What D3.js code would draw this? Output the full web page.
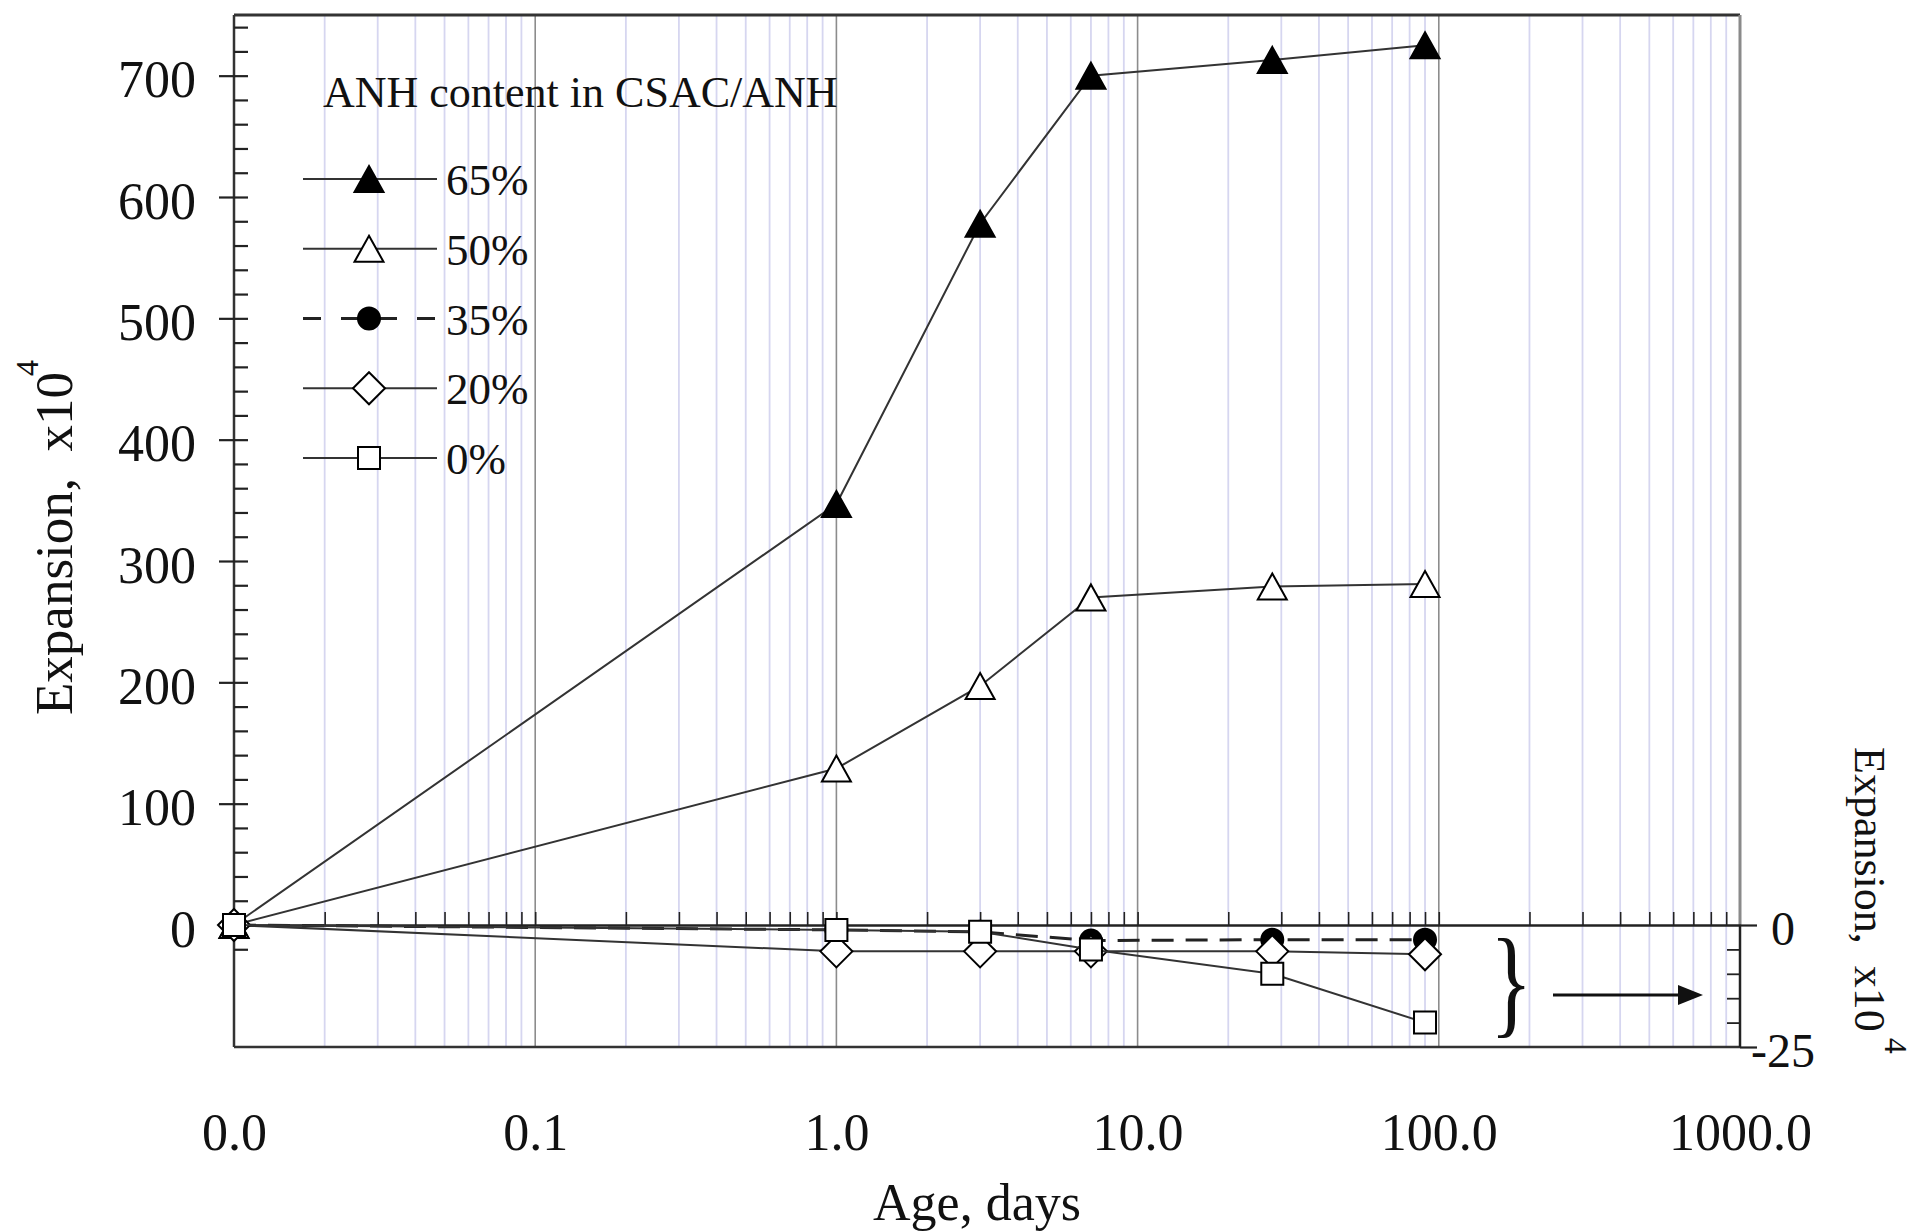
<!DOCTYPE html>
<html>
<head>
<meta charset="utf-8">
<script src="https://cdn.jsdelivr.net/npm/d3@7"></script>
<style>
  body { margin: 0; background: #fff; }
  svg { display: block; }
  text { font-family: "Liberation Serif", "Times New Roman", Times, serif; fill: #111; }
</style>
</head>
<body>
<svg id="chart" width="1914" height="1231"></svg>
<script>
// Age of the specimens (days); the initial reading sits on the left axis (0.01)
const ageDays = [0.01, 1, 3, 7, 28, 90];

// Expansion, x10^-4 — upper panel series (left axis)
const anh65 = [0, 347, 578, 700, 713, 725];
const anh50 = [0, 129, 197, 270, 279, 281];
// Lower panel series (right axis, 0 to -25)
const anh35 = [0, -1, -1.4, -3.2, -3, -3];
const anh20 = [0, -5.4, -5.4, -5.4, -5.4, -6];
const anh0  = [0, -1, -1.4, -5, -10, -20];

const seriesNames = ["65%", "50%", "35%", "20%", "0%"];
const legendTitle = "ANH content in CSAC/ANH";

const xTickValues = [0.01, 0.1, 1, 10, 100, 1000];
const xTickLabels = ["0.0", "0.1", "1.0", "10.0", "100.0", "1000.0"];
const leftMajorTicks = [0, 100, 200, 300, 400, 500, 600, 700];
const leftMinorTicks = d3.range(-20, 741, 20);
const rightMajorTicks = [0, -25];
const rightMinorTicks = [-5, -10, -15, -20];

const svg = d3.select("#chart");

const L = 234, R = 1740, T = 15, Z = 925, B = 1047;

const x = d3.scaleLog().domain([0.01, 1000]).range([L, R]);
const yTop = d3.scaleLinear().domain([0, 750]).range([Z, T]);
const yBot = d3.scaleLinear().domain([-25, 0]).range([B, Z]);

// ---- vertical grid ----
const grid = svg.append("g");
const allLogTicks = x.ticks().filter(d => d > 0.01 && d < 1000);
const isDecade = d => Math.abs(Math.log10(d) - Math.round(Math.log10(d))) < 1e-9;
grid.selectAll("line.minor")
  .data(allLogTicks.filter(d => !isDecade(d)))
  .join("line")
  .attr("x1", d => x(d)).attr("x2", d => x(d))
  .attr("y1", T).attr("y2", B)
  .attr("stroke", "#d6d6f0").attr("stroke-width", 1.8);
grid.selectAll("line.decade")
  .data(allLogTicks.filter(isDecade))
  .join("line")
  .attr("x1", d => x(d)).attr("x2", d => x(d))
  .attr("y1", T).attr("y2", B)
  .attr("stroke", "#8c8c8c").attr("stroke-width", 1.6);

// ---- frame ----
const frame = svg.append("g").attr("fill", "none");
frame.append("line").attr("x1", L).attr("x2", R).attr("y1", T).attr("y2", T)
  .attr("stroke", "#333").attr("stroke-width", 2.8);
frame.append("line").attr("x1", L).attr("x2", R).attr("y1", B).attr("y2", B)
  .attr("stroke", "#333").attr("stroke-width", 2.5);
frame.append("line").attr("x1", L).attr("x2", L).attr("y1", T).attr("y2", B)
  .attr("stroke", "#333").attr("stroke-width", 2.5);
frame.append("line").attr("x1", R).attr("x2", R).attr("y1", T).attr("y2", Z)
  .attr("stroke", "#8a8a8a").attr("stroke-width", 3);
frame.append("line").attr("x1", R).attr("x2", R).attr("y1", Z).attr("y2", B)
  .attr("stroke", "#222").attr("stroke-width", 2.5);

// ---- zero line with upward log ticks ----
const zeroAxis = svg.append("g").attr("transform", `translate(0,${Z})`)
  .call(d3.axisTop(x).tickValues(allLogTicks).tickSize(13).tickSizeOuter(0).tickFormat(""));
zeroAxis.select(".domain").attr("stroke", "#222").attr("stroke-width", 2.5);
zeroAxis.selectAll(".tick line").attr("stroke", "#222").attr("stroke-width", 1.6);

// ---- x tick labels ----
const xAxis = svg.append("g").attr("transform", `translate(0,${B})`)
  .call(d3.axisBottom(x).tickValues(xTickValues).tickSize(0)
    .tickFormat((d, i) => xTickLabels[i]));
xAxis.select(".domain").remove();
xAxis.selectAll("text")
  .attr("y", 103).attr("dy", 0)
  .style("font-size", "52px").style("font-family", "Liberation Serif").attr("fill", "#111");

svg.append("text")
  .attr("x", 977).attr("y", 1220)
  .attr("text-anchor", "middle")
  .style("font-size", "52px")
  .text("Age, days");

// ---- left axis ----
const yLeftAxis = svg.append("g").attr("transform", `translate(${L},0)`)
  .call(d3.axisLeft(yTop).tickValues(leftMajorTicks).tickSize(15).tickSizeOuter(0));
yLeftAxis.select(".domain").remove();
yLeftAxis.selectAll(".tick line").attr("stroke", "#222").attr("stroke-width", 2.2);
yLeftAxis.selectAll("text")
  .attr("x", -38).attr("dy", 0).attr("y", 21)
  .style("font-size", "52px").style("font-family", "Liberation Serif").attr("fill", "#111");

const yLeftInner = svg.append("g").attr("transform", `translate(${L},0)`)
  .call(d3.axisRight(yTop).tickValues(leftMinorTicks).tickSize(14).tickSizeOuter(0).tickFormat(""));
yLeftInner.select(".domain").remove();
yLeftInner.selectAll(".tick line").attr("stroke", "#222").attr("stroke-width", 2.2);

const leftTitle = svg.append("text")
  .attr("transform", "translate(72,715) rotate(-90)")
  .style("font-size", "53px");
leftTitle.append("tspan").text("Expansion,\u00A0\u00A0x10");
leftTitle.append("tspan").attr("dy", -34).attr("dx", -4).style("font-size", "32px").text("4");

// ---- right axis (lower panel) ----
const yRightAxis = svg.append("g").attr("transform", `translate(${R},0)`)
  .call(d3.axisRight(yBot).tickValues(rightMajorTicks).tickSize(17).tickSizeOuter(0)
    .tickFormat(d => d === 0 ? "0" : "-25"));
yRightAxis.select(".domain").remove();
yRightAxis.selectAll(".tick line").attr("stroke", "#222").attr("stroke-width", 2.2);
yRightAxis.selectAll("text")
  .attr("x", 43).attr("dy", 0).attr("y", 19)
  .attr("text-anchor", "middle")
  .style("font-size", "48px").style("font-family", "Liberation Serif").attr("fill", "#111");

const yRightInner = svg.append("g").attr("transform", `translate(${R},0)`)
  .call(d3.axisLeft(yBot).tickValues(rightMinorTicks).tickSize(13).tickSizeOuter(0).tickFormat(""));
yRightInner.select(".domain").remove();
yRightInner.selectAll(".tick line").attr("stroke", "#222").attr("stroke-width", 1.8);

const rightTitle = svg.append("text")
  .attr("transform", "translate(1855,747) rotate(90)")
  .style("font-size", "44px");
rightTitle.append("tspan").text("Expansion,\u00A0\u00A0x10");
rightTitle.append("tspan").attr("dy", -30).attr("dx", 6).style("font-size", "32px").text("4");

// brace and arrow pointing the lower series to the right axis
svg.append("text")
  .attr("transform", "translate(1490,1022) scale(0.8,1.1)")
  .style("font-size", "110px")
  .text("}");
svg.append("line")
  .attr("x1", 1553).attr("x2", 1682).attr("y1", 995).attr("y2", 995)
  .attr("stroke", "#111").attr("stroke-width", 3);
svg.append("path")
  .attr("d", "M1678,985 L1703,995 L1678,1005 Z")
  .attr("fill", "#111");

// ---- markers ----
const markerPaths = {
  triangle: "M0,-13 L14.5,13 L-14.5,13 Z",
  square: "M-11,-11 L11,-11 L11,11 L-11,11 Z",
  diamond: "M0,-16 L16,0 L0,16 L-16,0 Z",
  circle: d3.symbol(d3.symbolCircle, Math.PI * 11 * 11)()
};

const series = [
  { name: seriesNames[0], values: anh65, y: yTop, shape: "triangle", fill: "#000", dash: null },
  { name: seriesNames[1], values: anh50, y: yTop, shape: "triangle", fill: "#fff", dash: null },
  { name: seriesNames[2], values: anh35, y: yBot, shape: "circle",   fill: "#000", dash: "22,12" },
  { name: seriesNames[3], values: anh20, y: yBot, shape: "diamond",  fill: "#fff", dash: null },
  { name: seriesNames[4], values: anh0,  y: yBot, shape: "square",   fill: "#fff", dash: null }
];

const plot = svg.append("g");
series.forEach(s => {
  const pts = ageDays.map((d, i) => [d, s.values[i]]);
  const line = d3.line().x(p => x(p[0])).y(p => s.y(p[1]));
  const g = plot.append("g");
  g.append("path")
    .attr("d", line(pts))
    .attr("fill", "none")
    .attr("stroke", s.dash ? "#222" : "#333")
    .attr("stroke-width", s.dash ? 3 : 2)
    .attr("stroke-dasharray", s.dash);
  g.selectAll("path.mk")
    .data(pts)
    .join("path")
    .attr("class", "mk")
    .attr("d", markerPaths[s.shape])
    .attr("transform", p => `translate(${x(p[0])},${s.y(p[1])})`)
    .attr("fill", s.fill)
    .attr("stroke", "#000")
    .attr("stroke-width", 2);
});

// ---- legend ----
const legend = svg.append("g");
legend.append("text")
  .attr("x", 323).attr("y", 107)
  .style("font-size", "44px")
  .text(legendTitle);
const rowY = d3.scalePoint().domain(seriesNames).range([179, 458]);
series.forEach(s => {
  const cy = rowY(s.name);
  legend.append("line")
    .attr("x1", 303).attr("x2", 437).attr("y1", cy).attr("y2", cy)
    .attr("stroke", s.dash ? "#222" : "#333")
    .attr("stroke-width", s.dash ? 3 : 2)
    .attr("stroke-dasharray", s.dash ? "18,20" : null);
  legend.append("path")
    .attr("d", markerPaths[s.shape])
    .attr("transform", `translate(369,${cy})`)
    .attr("fill", s.fill)
    .attr("stroke", "#000")
    .attr("stroke-width", 2);
  legend.append("text")
    .attr("x", 446).attr("y", cy + 16)
    .style("font-size", "45px")
    .text(s.name);
});
</script>
</body>
</html>
